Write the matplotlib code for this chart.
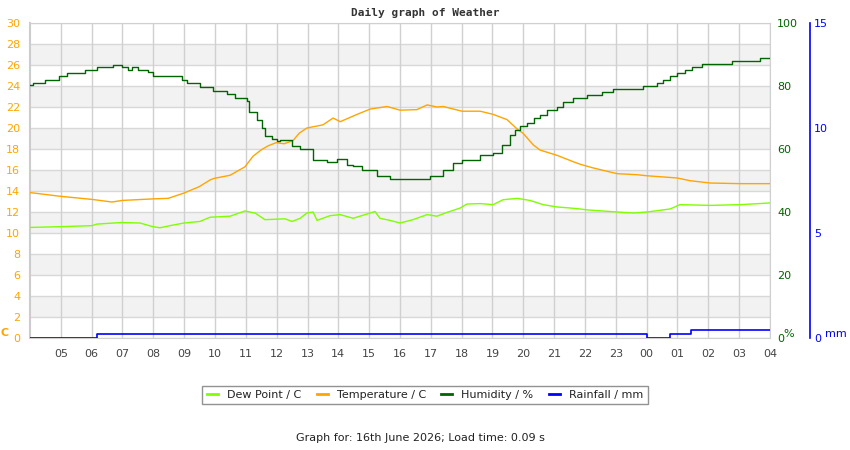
import matplotlib
matplotlib.use("Agg")
import matplotlib.pyplot as plt
import numpy as np

# ---------------- data (hours since 00:00 on day 1; 24+ = next day) ----------------
temp_t = [4.00, 4.97, 6.01, 6.66, 6.98, 7.99, 8.48, 8.99, 9.48, 9.84, 9.97, 10.49, 10.97,
          11.23, 11.49, 11.72, 11.98, 12.24, 12.53, 12.73, 12.98, 13.50, 13.83, 14.06,
          14.61, 15.03, 15.58, 16.00, 16.55, 16.88, 17.20, 17.40, 18.01, 18.60, 19.02,
          19.47, 19.80, 19.99, 20.32, 20.54, 21.09, 21.61, 21.84, 22.26, 23.04, 23.69,
          24.01, 24.99, 25.41, 26.06, 27.03, 28.00]
temp_v = [13.85, 13.5, 13.2, 12.95, 13.1, 13.25, 13.3, 13.8, 14.4, 15.05, 15.2, 15.5, 16.3,
          17.3, 17.9, 18.3, 18.6, 18.5, 18.8, 19.5, 20.0, 20.3, 20.95, 20.6,
          21.3, 21.8, 22.05, 21.7, 21.75, 22.2, 22.0, 22.05, 21.6, 21.6, 21.3,
          20.8, 19.9, 19.5, 18.4, 17.9, 17.4, 16.8, 16.55, 16.2, 15.65, 15.55,
          15.45, 15.24, 14.98, 14.76, 14.7, 14.7]

dew_t = [4.00, 4.97, 6.01, 6.17, 6.98, 7.57, 7.99, 8.22, 8.54, 8.99, 9.51, 9.84, 10.49,
         10.97, 11.30, 11.62, 12.27, 12.50, 12.76, 12.98, 13.18, 13.31, 13.73, 14.06,
         14.48, 15.03, 15.19, 15.35, 15.68, 16.00, 16.42, 16.88, 17.20, 17.53, 17.95,
         18.17, 18.60, 19.02, 19.34, 19.80, 20.22, 20.64, 21.09, 21.52, 21.84, 22.07,
         23.04, 23.56, 24.01, 24.76, 25.08, 26.06, 27.03, 28.00]
dew_v = [10.53, 10.6, 10.7, 10.85, 11.0, 10.95, 10.6, 10.5, 10.7, 10.95, 11.1, 11.5, 11.6,
         12.1, 11.9, 11.27, 11.35, 11.1, 11.4, 11.9, 12.0, 11.2, 11.65, 11.75,
         11.4, 11.9, 12.05, 11.4, 11.2, 10.95, 11.27, 11.75, 11.6, 11.97, 12.38,
         12.76, 12.8, 12.7, 13.17, 13.3, 13.1, 12.7, 12.48, 12.38, 12.29, 12.2,
         12.0, 11.9, 12.0, 12.29, 12.7, 12.63, 12.7, 12.86]

hum_t = [4.00, 4.11, 4.49, 4.95, 5.19, 5.78, 6.16, 6.32, 6.70, 6.97, 7.19, 7.30, 7.51,
         7.84, 8.00, 8.92, 9.08, 9.51, 9.94, 10.38, 10.65, 11.03, 11.11, 11.19, 11.35,
         11.52, 11.62, 11.84, 12.00, 12.11, 12.49, 12.76, 13.19, 13.62, 13.95, 14.27,
         14.49, 14.76, 15.25, 15.68, 16.97, 17.41, 17.73, 18.00, 18.60, 19.03, 19.24,
         19.30, 19.57, 19.73, 19.89, 20.11, 20.33, 20.54, 20.76, 21.08, 21.30, 21.62,
         22.06, 22.54, 22.92, 23.89, 24.33, 24.54, 24.76, 24.98, 25.25, 25.46, 25.79,
         26.76, 27.68, 28.00]
hum_v = [80.4, 80.95, 81.9, 83.05, 84.1, 84.95, 86.0, 86.0, 86.8, 86.0, 85.2, 86.0, 85.2,
         84.3, 83.2, 81.8, 81.1, 79.6, 78.3, 77.5, 76.2, 75.1, 71.9, 71.9, 69.3,
         66.7, 64.2, 63.2, 62.4, 63.0, 61.1, 60.0, 56.6, 55.75, 56.9, 55.0,
         54.5, 53.2, 51.3, 50.6, 51.5, 53.4, 55.5, 56.4, 58.0, 58.7, 58.7,
         61.4, 64.5, 66.1, 67.2, 68.25, 69.8, 70.7, 72.3, 73.3, 75.0, 76.2,
         77.2, 78.1, 79.0, 79.9, 81.0, 82.0, 83.1, 84.1, 84.95, 85.9, 86.9,
         87.9, 88.9, 88.9]

rain_t = [4.00, 6.18, 24.00, 24.77, 25.43, 28.00]
rain_v = [0.0, 0.2, 0.0, 0.2, 0.4, 0.4]

hour_ticks = list(range(5, 29))
hour_labels = ["%02d" % (h % 24) for h in hour_ticks]
temp_ticks = list(range(0, 31, 2))
hum_ticks = [0, 20, 40, 60, 80, 100]
rain_ticks = [0, 5, 10, 15]

C_TEMP = "#FFA500"
C_DEW = "#7FFF00"
C_HUM = "#006400"
C_RAIN = "#0000FF"
C_TXT = "#444444"

fig = plt.figure(figsize=(8.5, 4.5), dpi=100)
L, R, T, B = 30, 770, 23, 338
ax = fig.add_axes([L / 850, 1 - B / 450, (R - L) / 850, (B - T) / 450])

ax.set_xlim(4, 28)
ax.set_ylim(0, 30)
# alternating bands
for y0 in range(2, 30, 4):
    ax.axhspan(y0, y0 + 2, color="#f2f2f2", zorder=0, lw=0)
for y in temp_ticks:
    ax.axhline(y, color="#d8d8d8", lw=1.0, zorder=0.5)
for h in hour_ticks:
    ax.axvline(h, color="#d0d0d0", lw=1.0, zorder=0.5)

ax.plot(temp_t, temp_v, color=C_TEMP, lw=1.0, zorder=3)
ax.plot(dew_t, dew_v, color=C_DEW, lw=1.0, zorder=3)

ax.set_xticks(hour_ticks)
ax.set_xticklabels(hour_labels)
ax.set_yticks(temp_ticks)
ax.tick_params(axis="x", length=0, labelsize=8, colors=C_TXT, pad=8)
ax.tick_params(axis="y", length=0, labelsize=8, labelcolor=C_TEMP, pad=7)
for s in ax.spines.values():
    s.set_color("#d0d0d0")
ax.spines["left"].set_color("#cccccc")
ax.spines["left"].set_linewidth(1.5)

ax2 = ax.twinx()
ax2.set_ylim(0, 100)
ax2.set_yticks(hum_ticks)
ax2.plot(hum_t, hum_v, color=C_HUM, lw=1.0, drawstyle="steps-post")
ax2.tick_params(axis="y", length=0, labelsize=8, labelcolor=C_HUM, pad=5)
for s in ax2.spines.values():
    s.set_visible(False)

ax3 = ax.twinx()
ax3.set_ylim(0, 15)
ax3.set_yticks(rain_ticks)
ax3.plot(rain_t, rain_v, color=C_RAIN, lw=1.2, drawstyle="steps-post")
for s in ax3.spines.values():
    s.set_visible(False)
ax3.spines["right"].set_visible(True)
ax3.spines["right"].set_position(("axes", (810 - L) / (R - L)))
ax3.spines["right"].set_color(C_RAIN)
ax3.spines["right"].set_linewidth(1.2)
ax3.tick_params(axis="y", length=0, labelsize=8, labelcolor=C_RAIN, pad=3)

fig.text(425 / 850, 1 - 13 / 450, "Daily graph of Weather", ha="center", va="center",
         family="DejaVu Sans Mono", fontweight="bold", fontsize=8, color="#333333")
fig.text(5 / 850, 1 - 333 / 450, "C", ha="center", va="center", color=C_TEMP,
         fontsize=8, fontweight="bold")
fig.text(789 / 850, 1 - 334 / 450, "%", ha="center", va="center", color=C_HUM, fontsize=8)
fig.text(836 / 850, 1 - 334 / 450, "mm", ha="center", va="center", color=C_RAIN, fontsize=8)

from matplotlib.lines import Line2D
handles = [Line2D([], [], color=C_DEW, lw=2), Line2D([], [], color=C_TEMP, lw=2),
           Line2D([], [], color=C_HUM, lw=2), Line2D([], [], color=C_RAIN, lw=2)]
labels = ["Dew Point / C", "Temperature / C", "Humidity / %", "Rainfall / mm"]
leg = fig.legend(handles, labels, loc="center", bbox_to_anchor=(425 / 850, 1 - 395 / 450),
                 ncol=4, fontsize=8, frameon=True, fancybox=False, handlelength=1.0,
                 handletextpad=0.8, columnspacing=1.4, borderpad=0.4)
leg.get_frame().set_edgecolor("#777777")
leg.get_frame().set_linewidth(1.0)
for t in leg.get_texts():
    t.set_color("#222222")

fig.text(420 / 850, 1 - 438 / 450, "Graph for: 16th June 2026; Load time: 0.09 s",
         ha="center", va="center", fontsize=8, color="#222222")

fig.savefig("out.png", dpi=100)
